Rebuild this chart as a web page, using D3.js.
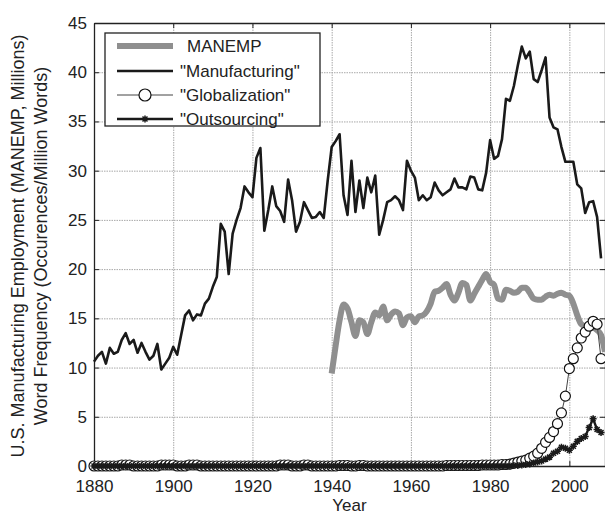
<!DOCTYPE html>
<html lang="en">
<head>
<meta charset="UTF-8" />
<title>Manufacturing employment and word frequency</title>
<style>
  body { margin: 0; background: #fff; }
  svg { display: block; font-family: "Liberation Sans", Arial, sans-serif; }
  .grid line { stroke: #a8a8a8; stroke-dasharray: 1.5 1; }
  .grid path { display: none; }
  .ax text { font-size: 17px; fill: #222; }
  .ax line, .ax path { stroke: #222; }
</style>
</head>
<body>
<svg id="chart" width="605" height="516"></svg>
<script src="https://d3js.org/d3.v7.min.js"></script>
<script>
// word frequencies, one value per year from 1880 to 2008
const firstYear = 1880;
const manufacturing = [
  10.6, 11.2, 11.6, 10.4, 12.0, 11.4, 11.6, 12.8, 13.5, 12.4,
  12.8, 11.5, 12.5, 11.6, 10.8, 11.2, 12.4, 9.8, 10.4, 11.0,
  12.1, 11.3, 13.3, 15.3, 15.8, 14.8, 15.4, 15.3, 16.5, 17.0,
  18.2, 19.2, 24.6, 23.8, 19.5, 23.6, 25.0, 26.2, 28.4, 27.8,
  27.3, 31.3, 32.3, 23.9, 26.0, 28.4, 26.4, 25.9, 24.8, 29.1,
  27.0, 23.8, 24.8, 26.8, 26.0, 25.2, 25.3, 25.8, 25.2, 29.0,
  32.4, 33.0, 33.7, 27.5, 25.5, 31.0, 25.8, 29.0, 26.2, 29.3,
  27.8, 29.5, 23.5, 25.0, 26.8, 27.0, 27.4, 27.0, 26.0, 31.0,
  30.0, 29.3, 27.0, 27.5, 27.0, 27.3, 28.8, 28.0, 27.5, 27.8,
  28.1, 29.2, 28.3, 28.3, 28.1, 29.4, 29.3, 28.1, 28.0, 29.8,
  33.1, 31.2, 31.5, 33.2, 37.3, 37.1, 38.6, 40.7, 42.6, 41.4,
  42.1, 39.3, 39.0, 40.2, 41.5, 35.4, 34.4, 34.2, 32.4, 30.9,
  30.9, 30.9, 28.6, 28.2, 25.7, 26.8, 26.9, 25.3, 21.1
];
const globalization = [
  0, 0, 0, 0, 0, 0, 0, 0.1, 0.1, 0.1,
  0, 0, 0, 0, 0, 0, 0, 0.1, 0.1, 0.1,
  0.1, 0, 0, 0, 0.1, 0.1, 0.1, 0, 0, 0,
  0, 0, 0, 0, 0, 0, 0, 0, 0, 0,
  0, 0, 0, 0, 0, 0, 0, 0.1, 0.1, 0.1,
  0, 0, 0, 0.1, 0.1, 0, 0, 0, 0, 0,
  0, 0, 0.05, 0.05, 0.05, 0, 0, 0.05, 0.05, 0,
  0, 0, 0, 0, 0, 0, 0, 0, 0, 0,
  0, 0, 0, 0, 0, 0, 0, 0, 0, 0.05,
  0.05, 0.05, 0.05, 0.05, 0.05, 0.05, 0.05, 0.05, 0.1, 0.1,
  0.1, 0.1, 0.1, 0.15, 0.15, 0.2, 0.3, 0.4, 0.5, 0.6,
  0.8, 1.0, 1.3, 1.8, 2.4, 2.9, 3.5, 4.3, 5.4, 7.1,
  9.9, 10.9, 12.0, 13.0, 13.6, 14.2, 14.7, 14.4, 10.9
];
const outsourcing = [
  0, 0, 0, 0, 0, 0, 0, 0, 0, 0,
  0, 0, 0, 0, 0, 0, 0, 0, 0, 0,
  0, 0, 0, 0, 0, 0, 0, 0, 0, 0,
  0, 0, 0, 0, 0, 0, 0, 0, 0, 0,
  0, 0, 0, 0, 0, 0, 0, 0, 0, 0,
  0, 0, 0, 0, 0, 0, 0, 0, 0, 0,
  0, 0, 0, 0, 0, 0, 0, 0, 0, 0,
  0, 0, 0, 0, 0, 0, 0, 0, 0, 0,
  0, 0, 0, 0, 0, 0, 0, 0, 0, 0,
  0, 0, 0, 0, 0, 0, 0, 0, 0, 0,
  0, 0, 0, 0, 0, 0, 0.05, 0.05, 0.1, 0.15,
  0.2, 0.3, 0.4, 0.5, 0.7, 0.9, 1.3, 1.5, 1.9, 1.8,
  1.6, 2.0, 2.5, 2.8, 3.0, 3.9, 4.8, 3.7, 3.4
];

// MANEMP, millions of employees
const manempYears = [
  1940, 1941, 1942, 1943, 1944, 1945, 1946, 1947, 1948, 1949,
  1950, 1951, 1952, 1953, 1954, 1955, 1956, 1957, 1958, 1959,
  1960, 1961, 1962, 1963, 1964, 1965, 1966, 1967, 1968, 1969,
  1970, 1971, 1972, 1973, 1974, 1975, 1976, 1977, 1978, 1979,
  1980, 1981, 1982, 1983, 1984, 1985, 1986, 1987, 1988, 1989,
  1990, 1991, 1992, 1993, 1994, 1995, 1996, 1997, 1998, 1999,
  2000, 2001, 2002, 2003, 2004, 2005, 2006, 2007, 2008, 2009
];
const manempValues = [
  9.4, 12.2, 14.8, 16.4, 16.0, 14.6, 13.2, 14.8, 14.6, 13.4,
  14.6, 15.6, 15.3, 16.2, 14.8, 15.4, 15.7, 15.5, 14.3, 15.1,
  15.2, 14.6, 15.2, 15.3, 15.7, 16.5, 17.7, 17.8, 18.1, 18.5,
  17.4, 16.8, 17.6, 18.6, 18.4, 16.8, 17.5, 18.2, 18.9, 19.5,
  18.7, 18.4, 17.0, 16.9, 17.9, 17.8, 17.6, 17.7, 18.1, 18.1,
  17.6, 17.0, 16.9, 16.9, 17.2, 17.4, 17.3, 17.5, 17.6, 17.4,
  17.3, 16.5, 15.3, 14.4, 14.2, 14.2, 14.1, 13.8, 13.3, 11.6
];

const xTicks = [1880, 1900, 1920, 1940, 1960, 1980, 2000];
const yTicks = [0, 5, 10, 15, 20, 25, 30, 35, 40, 45];
const legendLabels = ["MANEMP", "\"Manufacturing\"", "\"Globalization\"", "\"Outsourcing\""];

const svg = d3.select("#chart");
const plotLeft = 94, plotRight = 605, plotTop = 23, plotBottom = 466;

const x = d3.scaleLinear().domain([1880, 2009]).range([plotLeft, plotRight]);
const y = d3.scaleLinear().domain([0, 45]).range([plotBottom, plotTop]);

// dotted grid
svg.append("g").attr("class", "grid")
  .attr("transform", `translate(0,${plotBottom})`)
  .call(d3.axisBottom(x).tickValues(xTicks).tickSize(-(plotBottom - plotTop)).tickFormat(""));
svg.append("g").attr("class", "grid")
  .attr("transform", `translate(${plotLeft},0)`)
  .call(d3.axisLeft(y).tickValues(yTicks).tickSize(-(plotRight - plotLeft)).tickFormat(""));

// axes, ticks pointing inward
svg.append("g").attr("class", "ax")
  .attr("transform", `translate(0,${plotBottom})`)
  .call(d3.axisBottom(x).tickValues(xTicks).tickSize(-5).tickSizeOuter(0).tickPadding(14).tickFormat(d3.format("d")));
svg.append("g").attr("class", "ax")
  .attr("transform", `translate(${plotLeft},0)`)
  .call(d3.axisLeft(y).tickValues(yTicks).tickSize(-5).tickSizeOuter(0).tickPadding(7));
svg.append("g").attr("class", "ax")
  .attr("transform", `translate(0,${plotTop})`)
  .call(d3.axisTop(x).tickValues(xTicks).tickSize(-5).tickSizeOuter(0).tickFormat(""));
svg.append("g").attr("class", "ax")
  .attr("transform", `translate(${plotRight},0)`)
  .call(d3.axisRight(y).tickValues(yTicks).tickSize(-5).tickSizeOuter(0).tickFormat(""));
svg.selectAll(".ax path").attr("stroke-width", 1.3);

// axis titles
svg.append("text")
  .attr("transform", `translate(${(plotLeft + plotRight) / 2},511)`)
  .attr("text-anchor", "middle")
  .style("font-size", "17px").attr("fill", "#222")
  .text("Year");
const yTitles = ["U.S. Manufacturing Employment (MANEMP, Millions)", "Word Frequency (Occurences/Million Words)"];
yTitles.forEach((t, i) => {
  svg.append("text")
    .attr("transform", `translate(${24 + i * 23},246) rotate(-90)`)
    .attr("text-anchor", "middle")
    .style("font-size", "18px").attr("fill", "#222")
    .text(t);
});

// series
const yearX = (d, i) => x(firstYear + i);

svg.append("path")
  .datum(manempValues)
  .attr("fill", "none")
  .attr("stroke", "#8f8f8f")
  .attr("stroke-width", 6)
  .attr("stroke-linejoin", "round")
  .attr("d", d3.line().x((d, i) => x(manempYears[i])).y(d => y(d)).curve(d3.curveMonotoneX));

svg.append("path")
  .datum(manufacturing)
  .attr("fill", "none")
  .attr("stroke", "#1a1a1a")
  .attr("stroke-width", 2.6)
  .attr("stroke-linejoin", "round")
  .attr("d", d3.line().x(yearX).y(d => y(d)));

svg.append("path")
  .datum(globalization)
  .attr("fill", "none")
  .attr("stroke", "#444")
  .attr("stroke-width", 1)
  .attr("d", d3.line().x(yearX).y(d => y(d)));
svg.append("g").selectAll("circle")
  .data(globalization)
  .join("circle")
  .attr("cx", yearX)
  .attr("cy", d => y(d))
  .attr("r", 5)
  .attr("fill", "#fff")
  .attr("stroke", "#111")
  .attr("stroke-width", 1.2);

const star = "M-3.5,0H3.5M0,-3.5V3.5M-2.5,-2.5L2.5,2.5M-2.5,2.5L2.5,-2.5";
svg.append("path")
  .datum(outsourcing)
  .attr("fill", "none")
  .attr("stroke", "#1a1a1a")
  .attr("stroke-width", 2.4)
  .attr("d", d3.line().x(yearX).y(d => y(d)));
svg.append("g").selectAll("path")
  .data(outsourcing)
  .join("path")
  .attr("transform", (d, i) => `translate(${yearX(d, i)},${y(d)})`)
  .attr("d", star)
  .attr("stroke", "#1a1a1a")
  .attr("stroke-width", 1.5);

// legend
const lg = svg.append("g");
lg.append("rect")
  .attr("x", 105).attr("y", 33).attr("width", 215).attr("height", 93)
  .attr("fill", "#fff").attr("stroke", "#222").attr("stroke-width", 1.3);
const rowY = [46, 71, 95, 119];
lg.append("line").attr("x1", 117).attr("x2", 173).attr("y1", rowY[0]).attr("y2", rowY[0])
  .attr("stroke", "#8f8f8f").attr("stroke-width", 6);
lg.append("line").attr("x1", 117).attr("x2", 173).attr("y1", rowY[1]).attr("y2", rowY[1])
  .attr("stroke", "#1a1a1a").attr("stroke-width", 2.6);
lg.append("line").attr("x1", 117).attr("x2", 173).attr("y1", rowY[2]).attr("y2", rowY[2])
  .attr("stroke", "#444").attr("stroke-width", 1);
lg.append("circle").attr("cx", 145).attr("cy", rowY[2]).attr("r", 6)
  .attr("fill", "#fff").attr("stroke", "#111").attr("stroke-width", 1.2);
lg.append("line").attr("x1", 117).attr("x2", 173).attr("y1", rowY[3]).attr("y2", rowY[3])
  .attr("stroke", "#1a1a1a").attr("stroke-width", 2.4);
lg.append("path").attr("transform", `translate(145,${rowY[3]})`).attr("d", star)
  .attr("stroke", "#1a1a1a").attr("stroke-width", 1.5);
legendLabels.forEach((t, i) => {
  lg.append("text")
    .attr("x", i === 0 ? 187 : 180)
    .attr("y", rowY[i])
    .attr("dy", "0.35em")
    .style("font-size", "17px").attr("fill", "#222")
    .text(t);
});
</script>
</body>
</html>
